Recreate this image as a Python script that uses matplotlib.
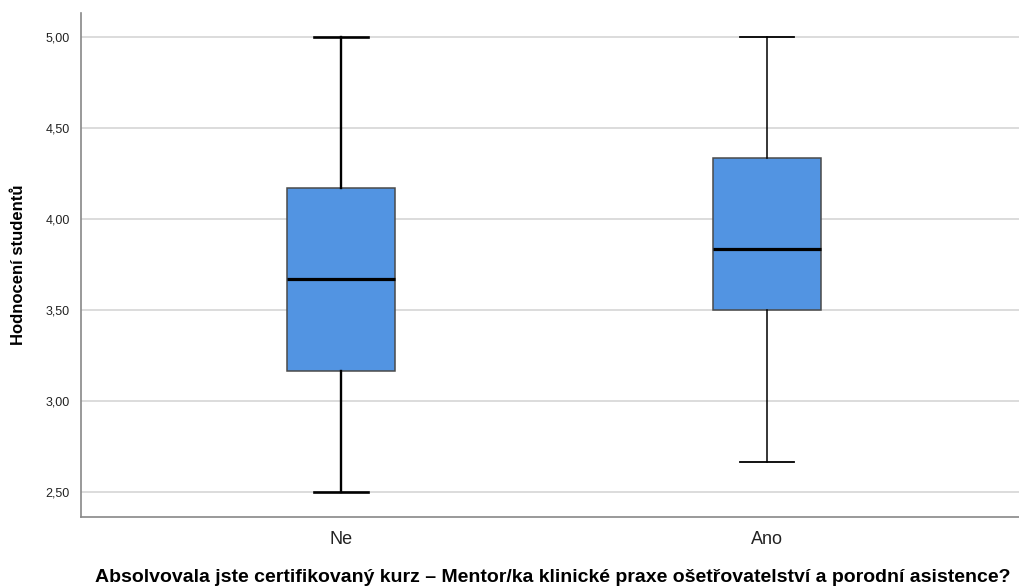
import matplotlib
matplotlib.use("Agg")
import matplotlib.pyplot as plt
from matplotlib.ticker import FuncFormatter

# hodnoty
skupiny = ["Ne", "Ano"]
minima = [2.50, 2.667]
q1 = [3.167, 3.50]
mediany = [3.667, 3.833]
q3 = [4.167, 4.333]
maxima = [5.00, 5.00]
yticky = [2.5, 3.0, 3.5, 4.0, 4.5, 5.0]

plt.rcParams["font.family"] = ["Liberation Sans", "DejaVu Sans"]

fig = plt.figure(figsize=(10.19, 5.86), dpi=100)
ax = fig.add_axes([81 / 1019, 1 - 517 / 586, (1019 - 81) / 1019, (517 - 13) / 586])

ax.set_xlim(-0.61, 1.592)
ax.set_ylim(2.363, 5.13)
ax.set_yticks(yticky)
ax.yaxis.set_major_formatter(FuncFormatter(lambda v, p: f"{v:.2f}".replace(".", ",")))
ax.grid(axis="y", color="#d6d6d6", linewidth=1.2)
ax.set_axisbelow(True)

sirky_vous = [1.7, 1.1]
for i, s in enumerate(skupiny):
    stats = [{"med": mediany[i], "q1": q1[i], "q3": q3[i],
              "whislo": minima[i], "whishi": maxima[i], "fliers": []}]
    ax.bxp(stats, positions=[i], widths=0.253, patch_artist=True,
           showfliers=False,
           boxprops=dict(facecolor="#5294e2", edgecolor="#4a4a4a", linewidth=1.1),
           medianprops=dict(color="black", linewidth=2.3),
           whiskerprops=dict(color="black", linewidth=sirky_vous[i]),
           capprops=dict(color="black", linewidth=sirky_vous[i] + 0.2),
           capwidths=0.127)

ax.set_xticks([0, 1])
ax.set_xticklabels(skupiny, fontsize=13, color="#222222")
ax.tick_params(axis="both", length=0)
ax.tick_params(axis="y", labelsize=9, pad=8, labelcolor="#222222")
ax.tick_params(axis="x", pad=10)

for side in ["top", "right"]:
    ax.spines[side].set_visible(False)
for side in ["left", "bottom"]:
    ax.spines[side].set_color("#888888")
    ax.spines[side].set_linewidth(1.2)

ax.set_ylabel("Hodnocení studentů", fontsize=12, fontweight="bold", labelpad=14)
fig.text(553 / 1019, 1 - 577 / 586,
         "Absolvovala jste certifikovaný kurz – Mentor/ka klinické praxe ošetřovatelství a porodní asistence?",
         fontsize=14, fontweight="bold", ha="center", va="center")

fig.savefig("out.png", dpi=100)
